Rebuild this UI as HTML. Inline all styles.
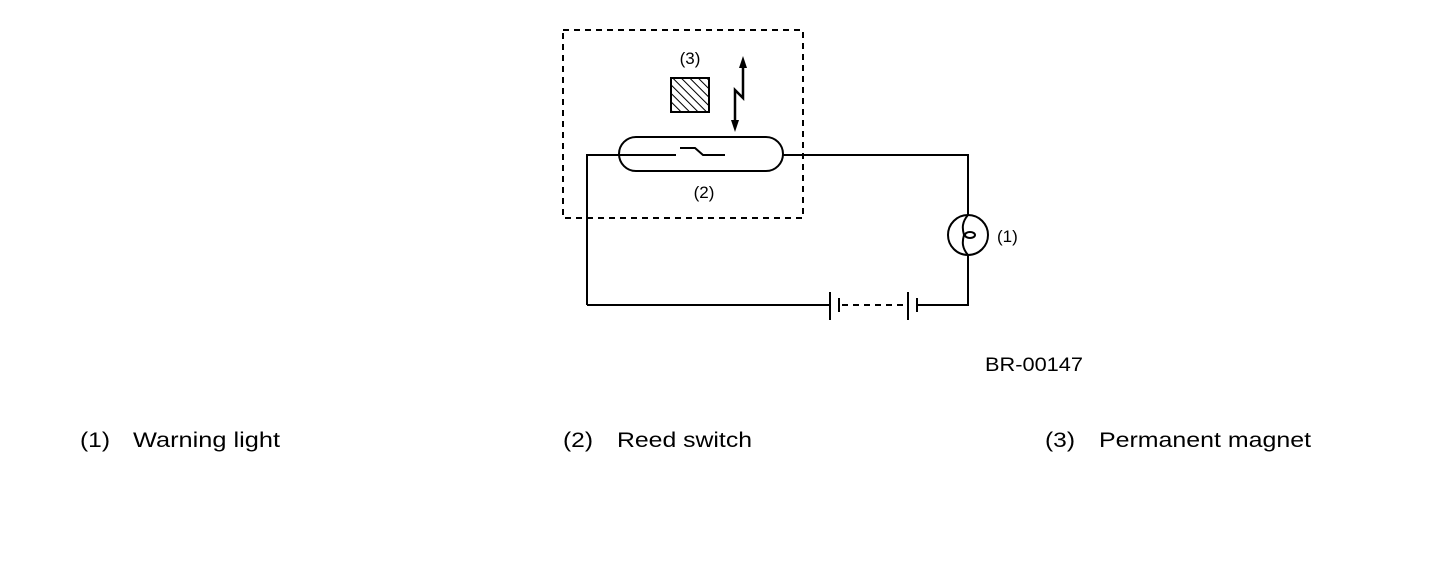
<!DOCTYPE html>
<html><head><style>body{margin:0;background:#fff}svg{display:block}</style></head><body>
<svg width="1456" height="568" viewBox="0 0 1456 568" xmlns="http://www.w3.org/2000/svg" font-family="Liberation Sans, sans-serif">
<defs><pattern id="h" width="6" height="6" patternUnits="userSpaceOnUse" patternTransform="rotate(-45)"><line x1="0" y1="0" x2="0" y2="6" stroke="#000" stroke-width="2"/></pattern></defs>
<rect x="563" y="30" width="240" height="188" fill="none" stroke="#000" stroke-width="2" stroke-dasharray="6,5"/>
<rect x="671" y="78" width="38" height="34" fill="url(#h)" stroke="#000" stroke-width="2"/>
<text x="690" y="64" font-size="17" text-anchor="middle">(3)</text>
<polyline points="743,62 743,98 735,90 735,126" fill="none" stroke="#000" stroke-width="2.5"/>
<polygon points="743,56 739,68 747,68" fill="#000"/>
<polygon points="735,132 731,120 739,120" fill="#000"/>
<rect x="619" y="137" width="164" height="34" rx="17" fill="none" stroke="#000" stroke-width="2"/>
<polyline points="587,305 587,155 676,155" fill="none" stroke="#000" stroke-width="2"/>
<polyline points="680,148 695,148 703,155 725,155" fill="none" stroke="#000" stroke-width="2"/>
<polyline points="783,155 968,155 968,215" fill="none" stroke="#000" stroke-width="2"/>
<text x="704" y="198" font-size="17" text-anchor="middle">(2)</text>
<circle cx="968" cy="235" r="20" fill="none" stroke="#000" stroke-width="2"/>
<path d="M968,215 C962,222 962,228 964,235 C962,242 962,248 968,255" fill="none" stroke="#000" stroke-width="2"/>
<ellipse cx="970" cy="235" rx="5" ry="3" fill="none" stroke="#000" stroke-width="2"/>
<text x="997" y="242" font-size="17">(1)</text>
<polyline points="968,255 968,305 916,305" fill="none" stroke="#000" stroke-width="2"/>
<line x1="587" y1="305" x2="829" y2="305" stroke="#000" stroke-width="2"/>
<line x1="830" y1="292" x2="830" y2="320" stroke="#000" stroke-width="2"/>
<line x1="839" y1="298" x2="839" y2="312" stroke="#000" stroke-width="2"/>
<line x1="842" y1="305" x2="906" y2="305" stroke="#000" stroke-width="2" stroke-dasharray="6,5"/>
<line x1="908" y1="292" x2="908" y2="320" stroke="#000" stroke-width="2"/>
<line x1="917" y1="298" x2="917" y2="312" stroke="#000" stroke-width="2"/>
<text x="985" y="371" font-size="19" textLength="98" lengthAdjust="spacingAndGlyphs">BR-00147</text>
<text x="80" y="447" font-size="21" textLength="30" lengthAdjust="spacingAndGlyphs">(1)</text>
<text x="133" y="447" font-size="21" textLength="147" lengthAdjust="spacingAndGlyphs">Warning light</text>
<text x="563" y="447" font-size="21" textLength="30" lengthAdjust="spacingAndGlyphs">(2)</text>
<text x="617" y="447" font-size="21" textLength="135" lengthAdjust="spacingAndGlyphs">Reed switch</text>
<text x="1045" y="447" font-size="21" textLength="30" lengthAdjust="spacingAndGlyphs">(3)</text>
<text x="1099" y="447" font-size="21" textLength="212" lengthAdjust="spacingAndGlyphs">Permanent magnet</text>
</svg>
</body></html>
